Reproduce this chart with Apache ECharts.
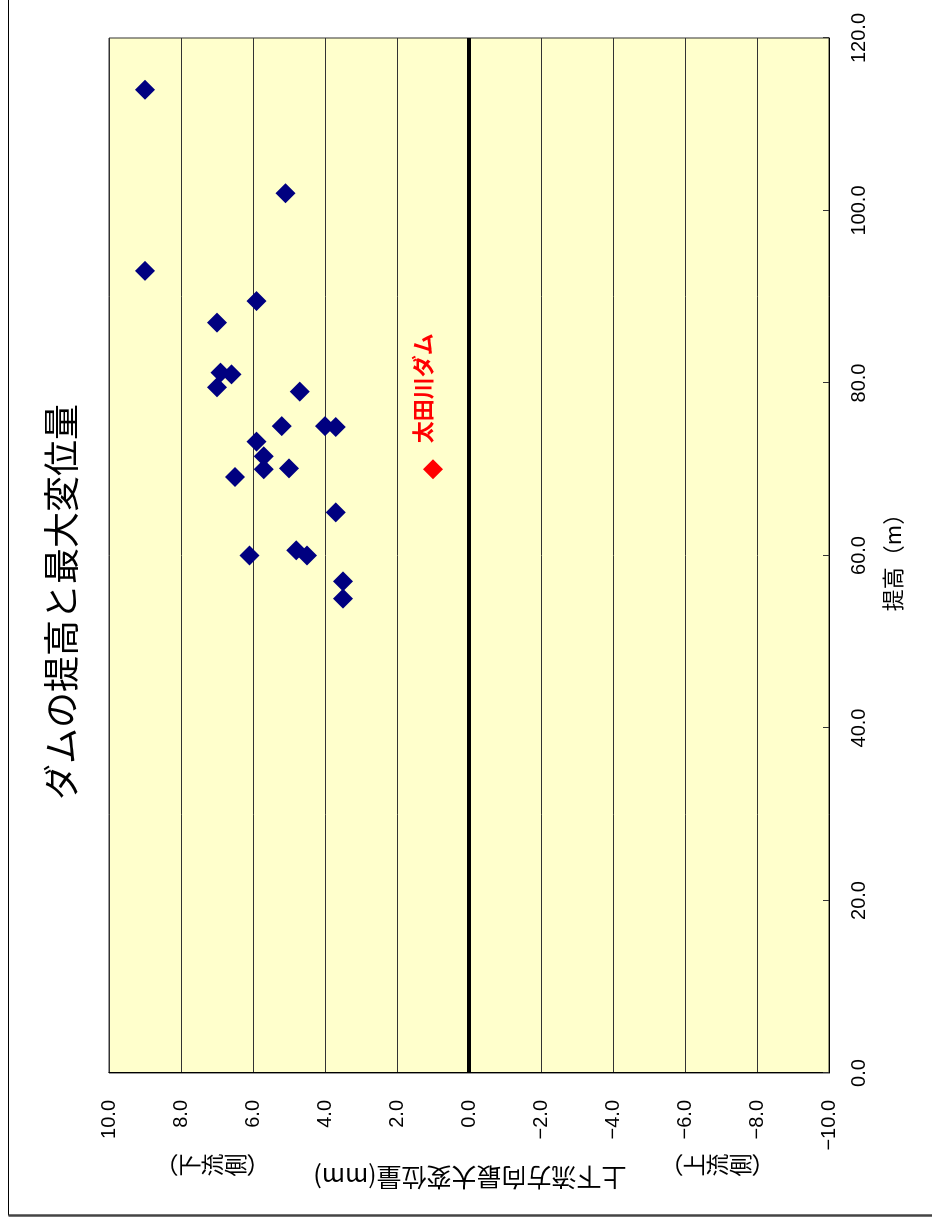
<!DOCTYPE html>
<html>
<head>
<meta charset="utf-8">
<title>ダムの提高と最大変位量</title>
<script src="https://cdn.jsdelivr.net/npm/echarts@6/dist/echarts.min.js"></script>
<style>
  html, body { margin: 0; padding: 0; background: #fff; overflow: hidden; }
  #wrap { position: absolute; left: 0; top: 0; width: 932px; height: 1224px; overflow: hidden; }
  /* the sheet is laid out landscape and turned a quarter left onto the page */
  #chart { position: absolute; left: 0; top: 0; width: 1224px; height: 932px;
           transform-origin: 0 0; transform: translateY(1224px) rotate(-90deg); }
</style>
</head>
<body>
<div id="wrap"><div id="chart"></div></div>
<script>
// 提高 (m) / 上下流方向最大変位量 (mm)
const damHeight = [114.0, 102.0, 93.0, 89.5, 87.0, 81.2, 81.0, 79.5, 79.0, 75.0, 75.0, 74.9,
                   73.2, 71.5, 70.0, 70.1, 69.1, 65.0, 60.0, 60.6, 60.0, 57.0, 55.0];
const damDisp   = [9.0, 5.1, 9.0, 5.9, 7.0, 6.9, 6.6, 7.0, 4.7, 5.2, 4.0, 3.7,
                   5.9, 5.7, 5.7, 5.0, 6.5, 3.7, 6.1, 4.8, 4.5, 3.5, 3.5];
const ohtaHeight = [70.0];
const ohtaDisp   = [1.0];
const ohtaName   = '太田川ダム';

const heightRange = [0, 120, 20];
const dispRange   = [-10, 10, 2];

const JP = '"Noto Sans CJK JP", "Noto Sans", sans-serif';
const NUM = '"Liberation Sans", Arial, sans-serif';

const fmt = v => (v < 0 ? '\u2212' + Math.abs(v).toFixed(1) : v.toFixed(1));

const chart = echarts.init(document.getElementById('chart'), null, { renderer: 'canvas' });

chart.setOption({
  animation: false,
  backgroundColor: '#ffffff',
  grid: {
    left: 151, right: 38, top: 109, bottom: 103,
    show: true, backgroundColor: '#ffffcc', borderColor: '#333', borderWidth: 1
  },
  xAxis: {
    type: 'value',
    min: heightRange[0], max: heightRange[1], interval: heightRange[2],
    axisLine: { show: true, onZero: false, lineStyle: { color: '#000', width: 1 } },
    axisTick: { show: true, inside: true, length: 6, lineStyle: { color: '#333' } },
    axisLabel: { fontSize: 20, fontFamily: NUM, color: '#000', margin: 20, formatter: fmt },
    splitLine: { show: false }
  },
  yAxis: {
    type: 'value',
    min: dispRange[0], max: dispRange[1], interval: dispRange[2],
    axisLine: { show: true, onZero: false, lineStyle: { color: '#000', width: 1 } },
    axisTick: { show: false },
    axisLabel: { fontSize: 20, fontFamily: NUM, color: '#000', margin: 27, formatter: fmt },
    splitLine: { show: true, lineStyle: { color: '#333', width: 1 } }
  },
  series: [
    {
      type: 'scatter',
      data: damHeight.map((h, i) => [h, damDisp[i]]),
      symbol: 'diamond',
      symbolSize: 20,
      itemStyle: { color: '#000080', opacity: 1 },
      markLine: {
        silent: true,
        symbol: ['none', 'none'],
        label: { show: false },
        lineStyle: { color: '#000', width: 4, type: 'solid', opacity: 1 },
        data: [{ yAxis: 0 }]
      },
      z: 3
    },
    {
      type: 'scatter',
      data: ohtaHeight.map((h, i) => [h, ohtaDisp[i]]),
      symbol: 'diamond',
      symbolSize: 20,
      itemStyle: { color: '#ff0000', opacity: 1 },
      label: {
        show: true, position: 'right', distance: 16, offset: [0, -10],
        formatter: ohtaName, color: '#ff0000',
        fontSize: 22, fontWeight: 'bold', fontFamily: JP
      },
      z: 4
    }
  ],
  graphic: [
    // chart area frame
    { type: 'line', shape: { x1: 8.5, y1: 8.5, x2: 1224, y2: 8.5 }, style: { stroke: '#000', lineWidth: 1.2 } },
    { type: 'line', shape: { x1: 8.5, y1: 8.5, x2: 8.5, y2: 932 }, style: { stroke: '#444', lineWidth: 2.5 } },
    {
      type: 'text', x: 622, y: 61,
      style: { text: 'ダムの提高と最大変位量', fontSize: 36, fontFamily: JP, fill: '#000',
               align: 'center', verticalAlign: 'middle' }
    },
    {
      type: 'text', x: 667, y: 893,
      style: { text: '提高（m）', fontSize: 22, fontFamily: JP, fill: '#000',
               align: 'center', verticalAlign: 'middle' }
    },
    {
      type: 'text', x: 46, y: 470, rotation: Math.PI / 2,
      style: { text: '上下流方向最大変位量(mm)', fontSize: 25, fontFamily: JP, fill: '#000',
               align: 'center', verticalAlign: 'middle' }
    },
    {
      type: 'text', x: 59, y: 212,
      style: { text: '︵\n下\n流\n側\n︶', fontSize: 23, lineHeight: 23, fontFamily: JP, fill: '#000',
               align: 'center', verticalAlign: 'middle' }
    },
    {
      type: 'text', x: 59, y: 717,
      style: { text: '︵\n上\n流\n側\n︶', fontSize: 23, lineHeight: 23, fontFamily: JP, fill: '#000',
               align: 'center', verticalAlign: 'middle' }
    }
  ]
});
</script>
</body>
</html>
